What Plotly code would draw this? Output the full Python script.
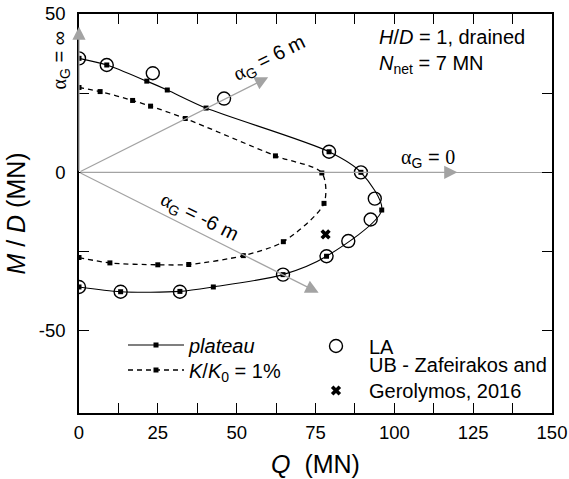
import plotly.graph_objects as go

# ---------------- data ----------------
plateau_q = [0, 8.8, 21.5, 28.0, 40.3, 79.3, 89.4, 96.0, 78.5, 64.7, 42.6, 32.0, 13.2, 0]
plateau_m = [36.0, 33.9, 28.8, 26.0, 20.3, 6.5, 0.0, -11.9, -26.5, -32.3, -36.2, -37.6, -37.7, -36.2]

k1_q = [0, 6.7, 17.0, 22.7, 33.7, 62.3, 77.0, 77.7, 64.8, 52.1, 34.8, 25.0, 9.8, 0]
k1_m = [26.8, 25.5, 22.7, 20.9, 17.0, 5.2, -0.2, -9.8, -21.9, -26.3, -29.1, -29.2, -28.6, -26.9]

la_q = [0, 8.8, 23.4, 46.0, 79.3, 89.4, 93.8, 92.5, 85.4, 78.5, 64.7, 32.0, 13.2, 0]
la_m = [36.0, 33.9, 31.3, 23.3, 6.5, 0.0, -8.3, -14.9, -21.7, -26.5, -32.3, -37.7, -37.7, -36.2]

ub_q = [78.2]
ub_m = [-19.6]

x_tickvals = [0, 12.5, 25, 37.5, 50, 62.5, 75, 87.5, 100, 112.5, 125, 137.5, 150]
x_ticktext = ["0", "", "25", "", "50", "", "75", "", "100", "", "125", "", "150"]
y_tickvals = [-50, -25, 0, 25, 50]
y_ticktext = ["-50", "", "0", "", "50"]

# alpha_G guide arrows (from origin) and their labels
ALPHA = '<span style="font-family:Liberation Serif">α</span><sub>G</sub>'
alpha_tip_q = [0, 60, 120, 76]
alpha_tip_m = [46, 30, 0, -38]
alpha_labels = [ALPHA + " = 6 m", ALPHA + ' = <span style="font-family:Liberation Serif">0</span>', ALPHA + " = -6 m"]
alpha_lab_q = [60.6, 110.7, 38.0]
alpha_lab_m = [35.8, 4.5, -14.4]
alpha_lab_angle = [-26.6, 0, 26.6]
alpha_inf_label = ALPHA + " = ∞"

FONT = "Liberation Sans, Arial, sans-serif"
GRAY = "#a3a3a3"

# plot-area geometry (px) used to place paper-referenced items
L, R, T, B = 79, 552, 14, 413
def px(xp):
    return (xp - L) / (R - L)
def py(yp):
    return (B - yp) / (B - T)

fig = go.Figure()

fig.add_trace(go.Scatter(
    x=plateau_q, y=plateau_m, mode="lines+markers", name="<i>plateau</i>",
    line=dict(color="black", width=1.1, shape="spline", smoothing=0.8),
    marker=dict(symbol="square", size=5, color="black"),
    legend="legend", showlegend=True,
))
fig.add_trace(go.Scatter(
    x=k1_q, y=k1_m, mode="lines+markers", name="<i>K</i>/<i>K</i><sub>0</sub> = 1%",
    line=dict(color="black", width=1.3, dash="5px,4px", shape="spline", smoothing=0.8),
    marker=dict(symbol="square", size=5, color="black"),
    legend="legend2", showlegend=True,
))
fig.add_trace(go.Scatter(
    x=la_q, y=la_m, mode="markers", name="LA",
    marker=dict(symbol="circle-open", size=13, color="black", line=dict(width=1.4, color="black")),
    legend="legend3", showlegend=True,
))
fig.add_trace(go.Scatter(
    x=ub_q, y=ub_m, mode="markers", name="UB - Zafeirakos and<br>Gerolymos, 2016",
    marker=dict(symbol="x", size=9, color="black", line=dict(width=0)),
    legend="legend4", showlegend=True,
))

annotations = []
for tq, tm in zip(alpha_tip_q, alpha_tip_m):
    annotations.append(dict(
        x=tq, y=tm, xref="x", yref="y", ax=0, ay=0, axref="x", ayref="y",
        text="", showarrow=True, arrowhead=2, arrowsize=2.2, arrowwidth=1.2,
        arrowcolor=GRAY, standoff=0, startstandoff=0,
    ))
for lab, lq, lm, ang in zip(alpha_labels, alpha_lab_q, alpha_lab_m, alpha_lab_angle):
    annotations.append(dict(
        x=lq, y=lm, xref="x", yref="y", text=lab, showarrow=False,
        textangle=ang, font=dict(family=FONT, size=20, color="black"),
        xanchor="center", yanchor="middle",
    ))
annotations.append(dict(
    x=px(59.5), y=py(61), xref="paper", yref="paper", text=alpha_inf_label,
    showarrow=False, textangle=-90, font=dict(family=FONT, size=20, color="black"),
    xanchor="center", yanchor="middle",
))
annotations.append(dict(
    x=px(377), y=py(51.5), xref="paper", yref="paper", xanchor="left", yanchor="middle",
    align="left", showarrow=False,
    text="<i>H</i>/<i>D</i> = 1, drained<br><i>N</i><sub>net</sub> = 7 MN",
    font=dict(family=FONT, size=20, color="black"),
))

leg_common = dict(xanchor="left", yanchor="middle", bgcolor="rgba(0,0,0,0)",
                  font=dict(family=FONT, size=20, color="black"), itemwidth=56,
                  visible=True)

fig.update_layout(
    width=569, height=479,
    showlegend=True,
    margin=dict(l=L, r=569 - R, t=T, b=479 - B, autoexpand=False),
    paper_bgcolor="white", plot_bgcolor="white",
    font=dict(family=FONT, size=20, color="black"),
    annotations=annotations,
    legend=dict(x=px(123), y=py(345), **leg_common),
    legend2=dict(x=px(123), y=py(370), **leg_common),
    legend3=dict(x=px(303), y=py(346), **leg_common),
    legend4=dict(x=px(303), y=py(377.5), valign="bottom", **leg_common),
    xaxis=dict(
        range=[0, 150], tickvals=x_tickvals, ticktext=x_ticktext, automargin=False,
        ticks="inside", ticklen=10, tickwidth=1, tickcolor="black",
        showline=True, linecolor="black", linewidth=1.5, mirror="ticks",
        showgrid=False, zeroline=False, ticklabelstandoff=2,
        tickfont=dict(family=FONT, size=18.5),
        title=dict(text="<i>Q</i>  (MN)", font=dict(family=FONT, size=25), standoff=14),
    ),
    yaxis=dict(
        range=[-76, 50], tickvals=y_tickvals, ticktext=y_ticktext, automargin=False,
        ticks="inside", ticklen=10, tickwidth=1, tickcolor="black",
        showline=True, linecolor="black", linewidth=1.5, mirror="ticks",
        showgrid=False, zeroline=True, zerolinecolor=GRAY, zerolinewidth=1.2,
        tickfont=dict(family=FONT, size=18.5), ticklabelstandoff=8,
        title=dict(text="<i>M</i> / <i>D</i> (MN)", font=dict(family=FONT, size=25), standoff=6),
    ),
)

fig.write_html(
    "out.html",
    config={"displayModeBar": False},
    post_script="document.body.style.margin='0px';document.body.style.padding='0px';",
)
